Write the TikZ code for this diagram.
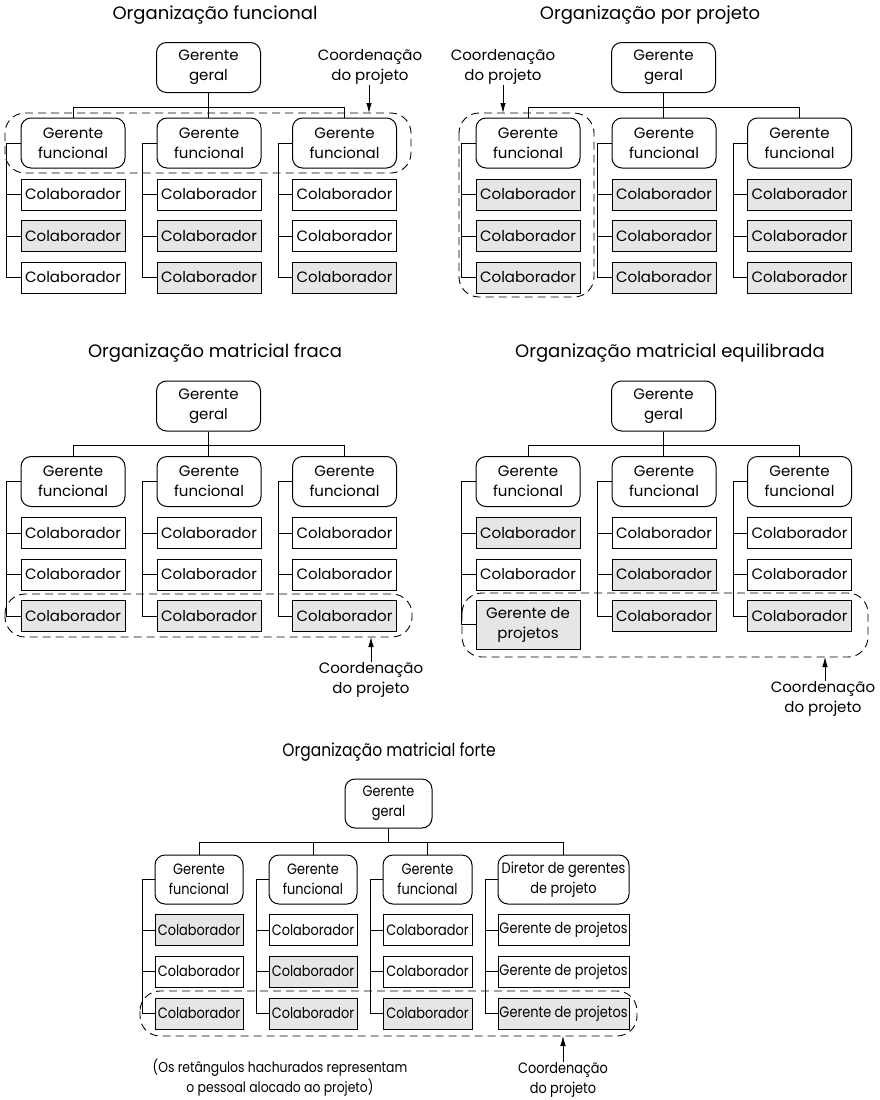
\documentclass[tikz,border=0pt]{standalone}
\usepackage{fontspec}
\setmainfont{Poppins}
\newfontfamily\narrowfont[FakeStretch=0.86]{Poppins}
\usetikzlibrary{arrows.meta}
\definecolor{staff}{RGB}{229,230,232}
\tikzset{
  box/.style={draw, line width=1pt, inner sep=0pt, align=center, fill=white,
    font=\fontsize{15}{20}\selectfont},
  head/.style={box, rounded corners=10pt, minimum width=104pt, minimum height=50pt},
  member/.style={box, minimum width=104pt, minimum height=31pt},
  narrow/.style={font=\narrowfont\fontsize{15}{20}\selectfont},
  nhead/.style={head, narrow, minimum height=49pt},
  nmember/.style={member, narrow},
  link/.style={line width=0.7pt},
  coord/.style={dash pattern=on 8pt off 5pt, line width=0.9pt, rounded corners=20pt},
  title/.style={font=\fontsize{18}{22}\selectfont},
  note/.style={align=center, font=\fontsize{15}{20}\selectfont, inner sep=0pt},
  nnote/.style={note, narrow},
  pointer/.style={-{Latex[length=10pt,width=5.5pt]}, line width=0.8pt},
}
% one functional chart: general manager, three functional managers, two staff each
% #1 name prefix, #2 fills of column 1, #3 column 2, #4 column 3 (top/middle/bottom)
\newcommand\funcchart[4]{%
  \node[head] (#1g) at (208.5,67.5) {Gerente\\geral};
  \foreach \i/\x/\fa/\fb/\fc in {1/73/#2,2/209/#3,3/344.5/#4} {
    \node[head] (#1f\i) at (\x,143) {Gerente\\funcional};
    \node[member, fill=\fa] (#1c\i-1) at (\x,194.5) {Colaborador};
    \node[member, fill=\fb] (#1c\i-2) at (\x,236) {Colaborador};
  }
  \draw[link] (#1g.south) -- (#1g.south |- #1f2.north);
  \draw[link] (#1g.south) -- ++(0,14) -| (#1f1.north);
  \draw[link] (#1g.south) -- ++(0,14) -| (#1f3.north);
}
\newcommand\brackets[1]{%
  \foreach \i in {1,2,3} {
    \draw[link] (#1f\i.west) -- ++(-14,0) |- (#1c\i-3.west);
    \draw[link] (#1c\i-1.west) -- ++(-14,0);
    \draw[link] (#1c\i-2.west) -- ++(-14,0);
  }
}
\begin{document}
\begin{tikzpicture}[x=1pt, y=-1pt]
\useasboundingbox (0,0) rectangle (879,1100);

% ---------- functional organisation ----------
\node[title] (t1) at (215,15) {Organização funcional};
\begin{scope}
  \funcchart{a}{white/staff/white}{white/staff/staff}{white/white/staff}
  \node[member, fill=white] (ac1-3) at (73,277.5) {Colaborador};
  \node[member, fill=staff] (ac2-3) at (209,277.5) {Colaborador};
  \node[member, fill=staff] (ac3-3) at (344.5,277.5) {Colaborador};
  \brackets{a}
  \draw[coord] (5,113) rectangle (411,173);
  \node[note] (ak) at (370,67) {Coordenação\\do projeto};
  \coordinate (aend) at (369,113);
  \draw[pointer] (ak.south -| aend) -- (aend);
\end{scope}

% ---------- project organisation ----------
\node[title] (t2) at (650,15) {Organização por projeto};
\begin{scope}[shift={(455,0)}]
  \funcchart{b}{staff/staff/staff}{staff/staff/staff}{staff/staff/staff}
  \node[member, fill=staff] (bc1-3) at (73,277.5) {Colaborador};
  \node[member, fill=staff] (bc2-3) at (209,277.5) {Colaborador};
  \node[member, fill=staff] (bc3-3) at (344.5,277.5) {Colaborador};
  \brackets{b}
  \draw[coord] (4,113) rectangle (139,297);
  \node[note] (bk) at (48,67) {Coordenação\\do projeto};
  \coordinate (bend) at (48,113);
  \draw[pointer] (bk.south -| bend) -- (bend);
\end{scope}

% ---------- weak matrix ----------
\node[title] (t3) at (215,353) {Organização matricial fraca};
\begin{scope}[shift={(0,338.5)}]
  \funcchart{c}{white/white/staff}{white/white/staff}{white/white/staff}
  \node[member, fill=staff] (cc1-3) at (73,277.5) {Colaborador};
  \node[member, fill=staff] (cc2-3) at (209,277.5) {Colaborador};
  \node[member, fill=staff] (cc3-3) at (344.5,277.5) {Colaborador};
  \brackets{c}
  \draw[coord] (5,255.5) rectangle (412,298.5);
  \node[note] (ck) at (371,341.5) {Coordenação\\do projeto};
  \coordinate (cend) at (371,298.5);
  \draw[pointer] (ck.north -| cend) -- (cend);
\end{scope}

% ---------- balanced matrix ----------
\node[title] (t4) at (670,353) {Organização matricial equilibrada};
\begin{scope}[shift={(455,338.5)}]
  \funcchart{d}{staff/white/staff}{white/staff/staff}{white/white/staff}
  \node[member, fill=staff, minimum height=49pt] (dc1-3) at (73,286) {Gerente de\\projetos};
  \node[member, fill=staff] (dc2-3) at (209,277.5) {Colaborador};
  \node[member, fill=staff] (dc3-3) at (344.5,277.5) {Colaborador};
  \foreach \i in {1,2,3} {
    \draw[link] (df\i.west) -- ++(-14,0) |- (dc\i-3.west);
    \draw[link] (dc\i-1.west) -- ++(-14,0);
    \draw[link] (dc\i-2.west) -- ++(-14,0);
  }
  \draw[coord] (7,254.5) rectangle (413,318.5);
  \node[note] (dk) at (368,360.5) {Coordenação\\do projeto};
  \coordinate (dend) at (370,318.5);
  \draw[pointer] (dk.north -| dend) -- (dend);
\end{scope}

% ---------- strong matrix ----------
\node[title, font=\narrowfont\fontsize{18}{22}\selectfont] (t5) at (389,752) {Organização matricial forte};
\node[nhead, minimum width=87pt] (eg) at (388.5,803.5) {Gerente\\geral};
\foreach \i/\x/\w/\fa/\fb/\fc in {
    1/199/88/staff/white/staff,
    2/313/88/white/staff/staff,
    3/427.5/89/white/white/staff} {
  \node[nhead, minimum width=\w pt] (ef\i) at (\x,879.5) {Gerente\\funcional};
  \node[nmember, minimum width=\w pt, fill=\fa] (ec\i-1) at (\x,930) {Colaborador};
  \node[nmember, minimum width=\w pt, fill=\fb] (ec\i-2) at (\x,971.5) {Colaborador};
  \node[nmember, minimum width=\w pt, fill=\fc] (ec\i-3) at (\x,1013.5) {Colaborador};
}
\node[nhead, minimum width=131pt] (ef4) at (563.5,879.5) {Diretor de gerentes\\de projeto};
\node[nmember, minimum width=131pt, fill=white] (ec4-1) at (563.5,930) {Gerente de projetos};
\node[nmember, minimum width=131pt, fill=white] (ec4-2) at (563.5,971.5) {Gerente de projetos};
\node[nmember, minimum width=131pt, fill=staff] (ec4-3) at (563.5,1013.5) {Gerente de projetos};
\draw[link] (eg.south) -- ++(0,14) -| (ef1.north);
\draw[link] (eg.south) -- ++(0,14) -| (ef2.north);
\draw[link] (eg.south) -- ++(0,14) -| (ef3.north);
\draw[link] (eg.south) -- ++(0,14) -| (ef4.north);
\foreach \i in {1,2,3,4} {
  \draw[link] (ef\i.west) -- ++(-12,0) |- (ec\i-3.west);
  \draw[link] (ec\i-1.west) -- ++(-12,0);
  \draw[link] (ec\i-2.west) -- ++(-12,0);
}
\draw[coord] (140,991) rectangle (637,1036);
\node[nnote] (ek) at (563,1080) {Coordenação\\do projeto};
\coordinate (eend) at (563,1036);
\draw[pointer] (ek.north -| eend) -- (eend);
\node[nnote, font=\narrowfont\fontsize{14.4}{20}\selectfont] (legend) at (280,1078)
  {(Os retângulos hachurados representam\\o pessoal alocado ao projeto)};
\end{tikzpicture}
\end{document}
